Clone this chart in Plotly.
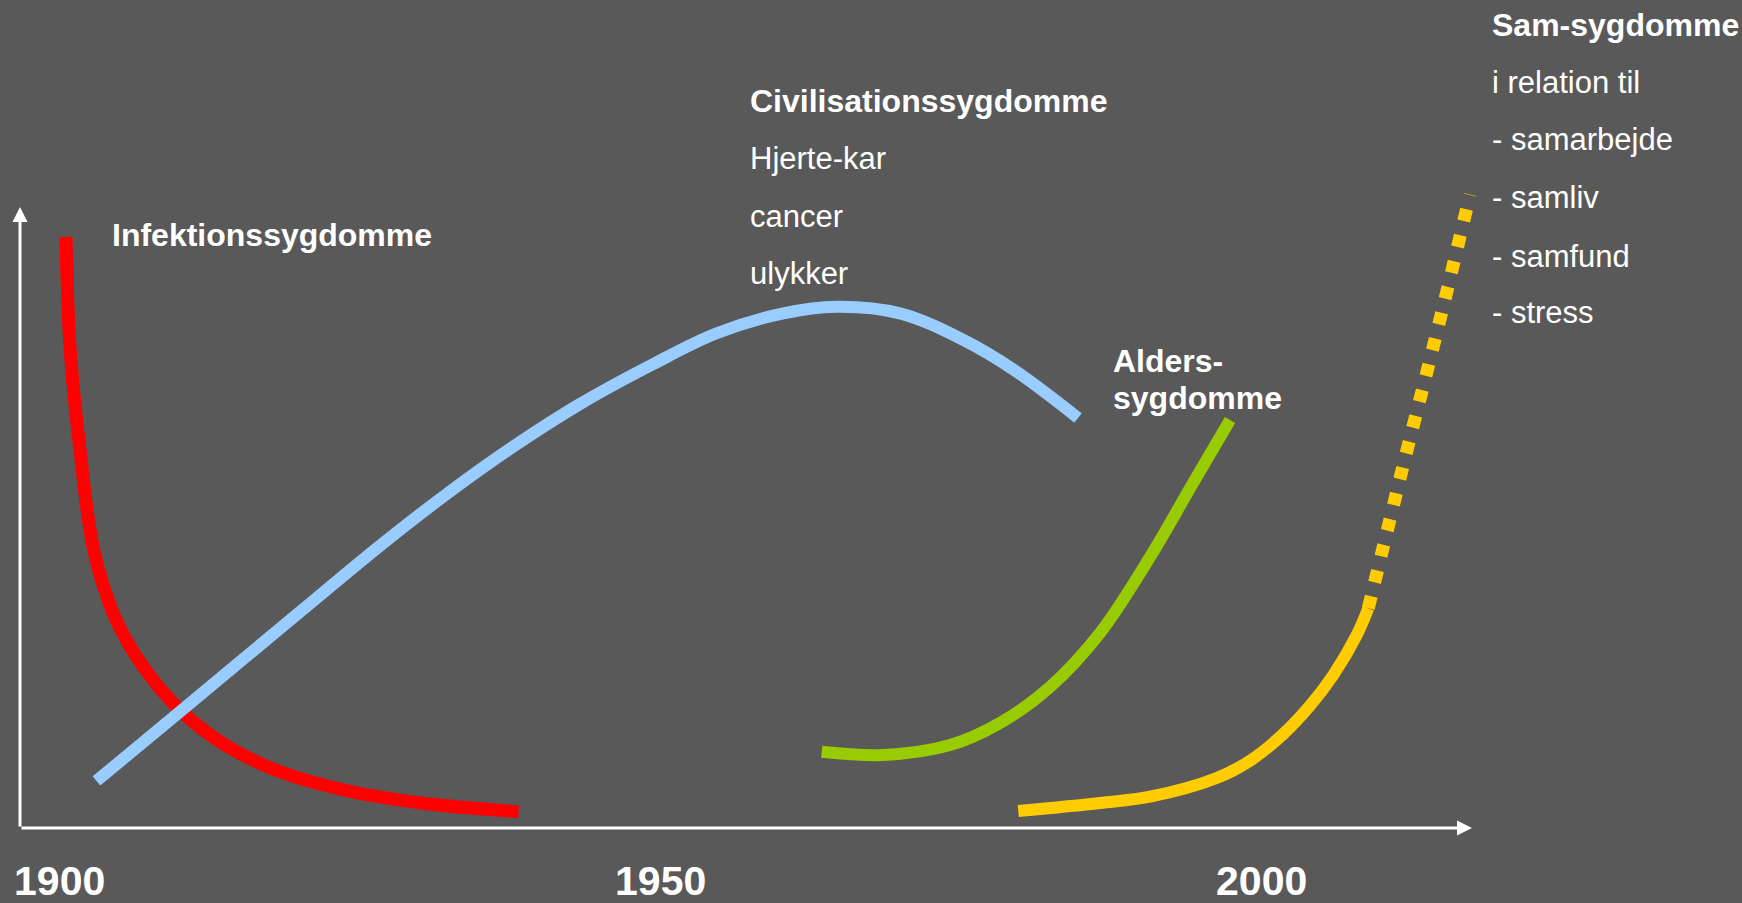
import plotly.graph_objects as go

# ---------------- data (x = year, y = relative disease burden, baseline = 0) ----------------
infektion_year = [1900.53, 1900.86, 1901.69, 1902.84, 1904.59, 1906.97, 1910.01,
                  1913.50, 1917.96, 1923.65, 1930.06, 1938.18]
infektion_level = [71.38, 58.09, 45.65, 33.57, 25.48, 19.44, 14.25,
                   10.27, 7.00, 4.59, 3.02, 1.97]

civil_year = [1903.06, 1910.32, 1919.99, 1926.65, 1932.20, 1937.74, 1943.29, 1949.39,
              1954.66, 1960.20, 1964.64, 1969.91, 1975.18, 1979.40, 1984.72]
civil_level = [5.68, 14.43, 26.09, 34.09, 40.34, 46.07, 51.21, 56.04,
               59.75, 62.16, 62.96, 62.16, 58.94, 55.31, 49.52]

alders_year = [1963.40, 1968.50, 1974.08, 1978.23, 1982.39, 1986.55, 1990.71, 1994.29, 1997.37]
alders_level = [9.21, 8.82, 10.02, 12.68, 17.03, 23.55, 32.73, 41.67, 49.28]

sam_year = [1979.75, 1986.55, 1990.71, 1996.26, 1999.03, 2001.80, 2004.02, 2005.96, 2007.91, 2008.87]
sam_level = [2.05, 3.02, 3.78, 6.04, 8.13, 11.35, 14.77, 18.48, 23.31, 26.53]

sam_future_year = [2008.87, 2010.48, 2012.06, 2013.73, 2015.33, 2017.33]
sam_future_level = [26.53, 36.11, 45.46, 54.98, 64.34, 76.51]

tick_years = [1900, 1950, 2000]
tick_labels = ["1900", "1950", "2000"]

civil_lines = ["Civilisationssygdomme", "Hjerte-kar", "cancer", "ulykker"]
alders_lines = ["Alders-", "sygdomme"]
sam_lines = ["Sam-sygdomme", "i relation til", "- samarbejde", "- samliv", "- samfund", "- stress"]
infektion_label = "Infektionssygdomme"

# ---------------- figure ----------------
X_START, X_END = 1896.7, 2039.96
AXIS_END_YEAR = 2017.5
Y_AXIS_TOP = 75
FONT = "Liberation Sans, Arial, sans-serif"
BG = "#595959"

fig = go.Figure()


def add_line(x, y, color, width, dash="solid"):
    fig.add_trace(go.Scatter(
        x=x, y=y, mode="lines",
        line=dict(color=color, width=width, shape="spline", smoothing=1.0, dash=dash),
        hoverinfo="skip", showlegend=False))


add_line(infektion_year, infektion_level, "#FF0000", 13)
add_line(civil_year, civil_level, "#99CCFF", 12)
add_line(alders_year, alders_level, "#99CC00", 12)
add_line(sam_year, sam_level, "#FFCC00", 12)
add_line(sam_future_year, sam_future_level, "#FFCC00", 13, dash="12px,14.6px")

# axis arrows
fig.add_annotation(x=AXIS_END_YEAR, y=0, ax=X_START, ay=0, xref="x", yref="y",
                   axref="x", ayref="y", text="", showarrow=True, arrowhead=2,
                   arrowsize=1.0, arrowwidth=3, arrowcolor="white")
fig.add_annotation(x=X_START, y=Y_AXIS_TOP, ax=X_START, ay=0, xref="x", yref="y",
                   axref="x", ayref="y", text="", showarrow=True, arrowhead=2,
                   arrowsize=1.0, arrowwidth=3, arrowcolor="white")


def label(text, x, y, bold=False):
    fig.add_annotation(
        x=x, y=y, xref="x", yref="y", xanchor="left", yanchor="middle",
        text=f"<b>{text}</b>" if bold else text, showarrow=False,
        font=dict(family=FONT, size=32 if bold else 31, color="white"))


label(infektion_label, 1904.2, 71.63, bold=True)

civ_y = [87.78, 80.88, 73.91, 66.99]
for i, (t, yy) in enumerate(zip(civil_lines, civ_y)):
    label(t, 1957.3, yy, bold=(i == 0))

for t, yy in zip(alders_lines, [56.45, 51.91]):
    label(t, 1987.5, yy, bold=True)

sam_y = [96.99, 90.02, 83.18, 76.14, 69.08, 62.25]
for i, (t, yy) in enumerate(zip(sam_lines, sam_y)):
    label(t, 2019.0, yy, bold=(i == 0))

fig.update_layout(
    width=1742, height=903,
    margin=dict(l=20, r=0, t=0, b=75, autoexpand=False),
    paper_bgcolor=BG, plot_bgcolor=BG,
    showlegend=False,
    xaxis=dict(range=[X_START, X_END], showgrid=False, zeroline=False, showline=False,
               automargin=False,
               tickvals=tick_years, ticktext=[f"<b>{t}</b>" for t in tick_labels],
               ticks="", ticklabelstandoff=25,
               tickfont=dict(family=FONT, size=41, color="white")),
    yaxis=dict(range=[0, 100], visible=False, automargin=False),
)

fig.write_html("out.html", config={"displayModeBar": False},
               post_script="document.body.style.margin='0';document.body.style.overflow='hidden';")
